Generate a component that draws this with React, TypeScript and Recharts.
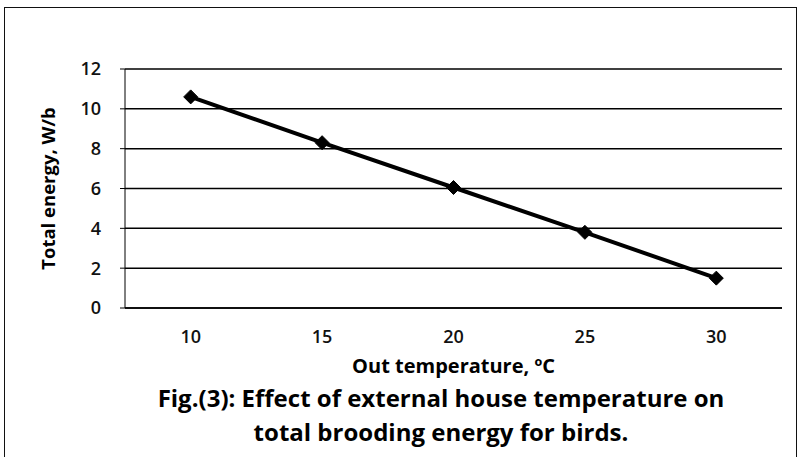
import React from 'react';
import { LineChart, Line, XAxis, YAxis, CartesianGrid, Label } from 'recharts';

const temperatures = [10, 15, 20, 25, 30];
const energy = [10.6, 8.3, 6.05, 3.8, 1.5];
const yTicks = [0, 2, 4, 6, 8, 10, 12];
const xBoundaryTicks = [7.5, 12.5, 17.5, 22.5, 27.5, 32.5];
const xLabelTicks = [10, 15, 20, 25, 30];

const data = temperatures.map((t, i) => ({ t, e: energy[i] }));

const FONT = '"Open Sans", Lato, sans-serif';

const Diamond = (props: any) => {
  const { cx, cy } = props;
  if (cx == null || cy == null) return null;
  const r = 7;
  return (
    <polygon
      points={`${cx},${cy - r} ${cx + r},${cy} ${cx},${cy + r} ${cx - r},${cy}`}
      fill="#000"
      stroke="#000"
    />
  );
};

export default function App() {
  return (
    <div style={{ position: 'fixed', left: 0, top: 0, width: 799, height: 457, background: '#fff', overflow: 'hidden', fontFamily: FONT }}>
      <div style={{ position: 'absolute', left: 4, top: 7, width: 791, height: 470, border: '1.5px solid #111', borderBottom: 'none' }} />
      <div style={{ position: 'absolute', left: 0, top: 0 }}>
        <LineChart width={799} height={457} data={data} margin={{ top: 69, right: 17, left: 0, bottom: 0 }}>
          <CartesianGrid vertical={false} stroke="#000" strokeWidth={1.5} />
          <XAxis
            xAxisId="b"
            dataKey="t"
            type="number"
            domain={[7.5, 32.5]}
            ticks={xBoundaryTicks}
            tick={false}
            tickSize={6}
            height={8}
            axisLine={{ stroke: '#000', strokeWidth: 1.5 }}
            tickLine={{ stroke: '#000', strokeWidth: 1.2 }}
          />
          <XAxis
            xAxisId="l"
            dataKey="t"
            type="number"
            domain={[7.5, 32.5]}
            ticks={xLabelTicks}
            axisLine={false}
            tickLine={false}
            tickSize={0}
            tickMargin={14}
            height={141}
            tick={{ fill: '#111', fontSize: 18, fontWeight: 600, fontFamily: FONT }}
          >
            <Label
              value="Out temperature, ºC"
              position="insideTop"
              offset={43}
              style={{ fill: '#000', fontSize: 20, fontWeight: 700, fontFamily: FONT }}
            />
          </XAxis>
          <YAxis
            domain={[0, 12]}
            ticks={yTicks}
            width={125}
            tickSize={5}
            tickMargin={19}
            axisLine={{ stroke: '#000', strokeWidth: 1 }}
            tickLine={{ stroke: '#000', strokeWidth: 1 }}
            tick={{ fill: '#111', fontSize: 18, fontWeight: 600, fontFamily: FONT }}
          >
            <Label
              value="Total energy, W/b"
              angle={-90}
              position="center"
              dx={-14}
              style={{ fill: '#000', fontSize: 18.5, fontWeight: 700, fontFamily: FONT, textAnchor: 'middle' }}
            />
          </YAxis>
          <Line
            xAxisId="b"
            dataKey="e"
            stroke="#000"
            strokeWidth={4}
            dot={<Diamond />}
            activeDot={false}
            isAnimationActive={false}
          />
        </LineChart>
      </div>
      <div
        style={{
          position: 'absolute',
          left: 91,
          top: 381,
          width: 700,
          textAlign: 'center',
          fontSize: 24,
          fontWeight: 700,
          lineHeight: '34px',
          color: '#000',
        }}
      >
        Fig.(3): Effect of external house temperature on
        <br />
        total brooding energy for birds.
      </div>
    </div>
  );
}
